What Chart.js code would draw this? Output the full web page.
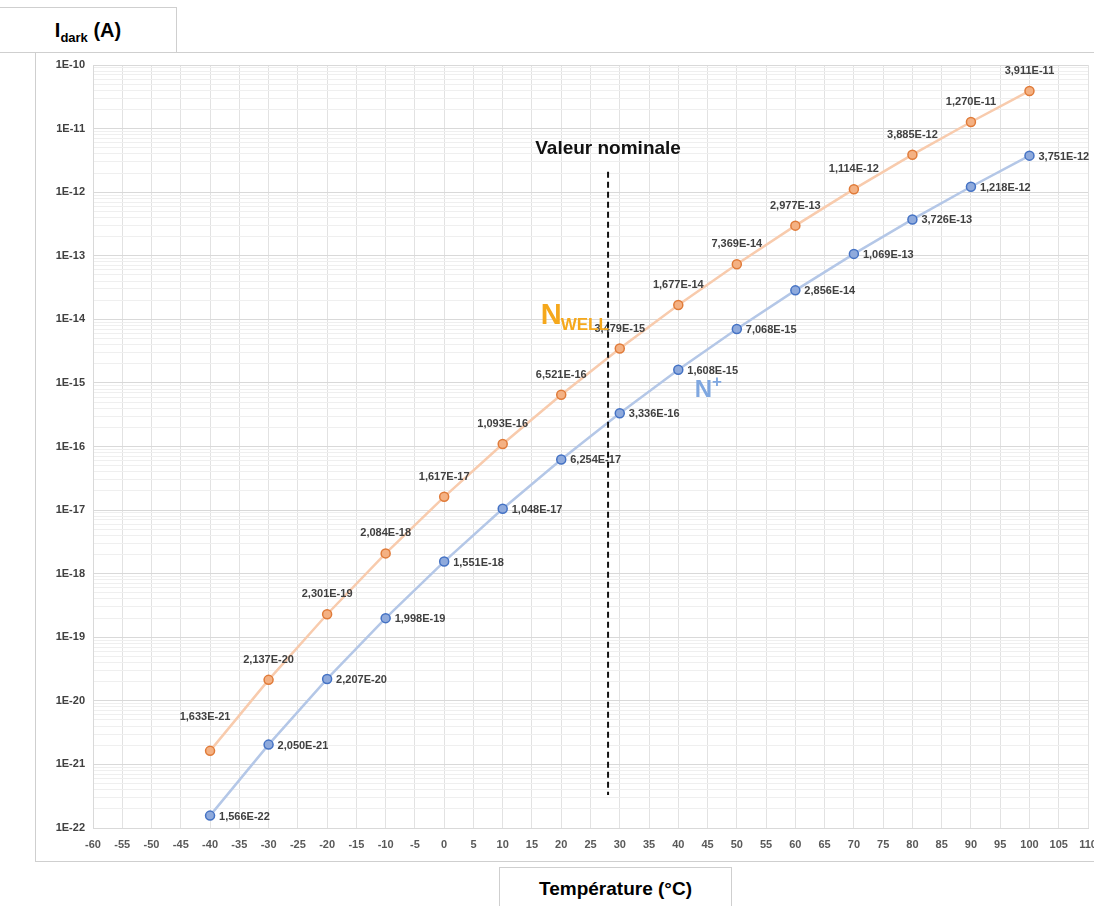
<!DOCTYPE html>
<html>
<head>
<meta charset="utf-8">
<script src="https://cdn.jsdelivr.net/npm/chart.js@4/dist/chart.umd.min.js"></script>
<style>
  body { margin: 0; background: #fff; }
  #wrap { position: relative; width: 1094px; height: 906px; overflow: hidden; font-family: 'Liberation Sans', Arial, sans-serif; }
  .box { position: absolute; border: 1px solid #cfcfcf; background: #fff; }
  canvas { position: absolute; left: 0; top: 0; }
</style>
</head>
<body>
<div id="wrap">
  <div class="box" style="left:35px; top:52px; width:1070px; height:808px;"></div>
  <div style="position:absolute; left:0; top:52px; width:1094px; height:0; border-top:1px solid #cfcfcf;"></div>
  <div class="box" style="left:-1px; top:7px; width:176px; height:44px; text-align:center; line-height:44px; font-weight:bold; font-size:20px;">I<sub style="font-size:13px;">dark</sub> (A)</div>
  <div class="box" style="left:499px; top:867px; width:231px; height:50px; text-align:center; line-height:42px; font-weight:bold; font-size:19px;">Température (°C)</div>
  <canvas id="myChart" width="1094" height="906"></canvas>
</div>
<script>
// temperatures (°C) and dark currents (A)
const temperatures = [-40, -30, -20, -10, 0, 10, 20, 30, 40, 50, 60, 70, 80, 90, 100];
const nwell = [1.633e-21, 2.137e-20, 2.301e-19, 2.084e-18, 1.617e-17, 1.093e-16, 6.521e-16, 3.479e-15,
               1.677e-14, 7.369e-14, 2.977e-13, 1.114e-12, 3.885e-12, 1.270e-11, 3.911e-11];
const nplus = [1.566e-22, 2.050e-21, 2.207e-20, 1.998e-19, 1.551e-18, 1.048e-17, 6.254e-17, 3.336e-16,
               1.608e-15, 7.068e-15, 2.856e-14, 1.069e-13, 3.726e-13, 1.218e-12, 3.751e-12];
const decades = [-22, -21, -20, -19, -18, -17, -16, -15, -14, -13, -12, -11, -10];
const nominalTemp = 28;

const LABEL_FONT = "bold 11px 'Liberation Sans Narrow', 'Liberation Sans', Arial, sans-serif";

function fmt(v) {
    return v.toExponential(3).replace('.', ',').replace('e', 'E');
}

function isDecade(v) {
    const e = Math.round(Math.log10(v));
    return Math.abs(v / Math.pow(10, e) - 1) < 1e-6;
}

const pointLabels = {
    id: 'pointLabels',
    afterDatasetsDraw(chart) {
        const ctx = chart.ctx;
        ctx.save();
        ctx.font = LABEL_FONT;
        ctx.fillStyle = '#404040';
        chart.data.datasets.forEach((ds, i) => {
            const meta = chart.getDatasetMeta(i);
            meta.data.forEach((pt, j) => {
                const txt = fmt(ds.data[j].y);
                if (i === 0) {
                    ctx.textAlign = 'center';
                    ctx.textBaseline = 'middle';
                    ctx.fillText(txt, pt.x - (j === 0 ? 5 : 0), pt.y - (j === 0 ? 34 : 20));
                } else {
                    ctx.textAlign = 'left';
                    ctx.textBaseline = 'middle';
                    ctx.fillText(txt, pt.x + 9, pt.y + 1);
                }
            });
        });
        ctx.restore();
    }
};

const annotations = {
    id: 'annotations',
    afterDraw(chart) {
        const ctx = chart.ctx;
        const xs = chart.scales.x, ys = chart.scales.y;
        const x = xs.getPixelForValue(nominalTemp);
        ctx.save();
        ctx.strokeStyle = '#111';
        ctx.lineWidth = 2;
        ctx.setLineDash([6, 4]);
        ctx.beginPath();
        ctx.moveTo(x, ys.getPixelForValue(2.1e-12));
        ctx.lineTo(x, ys.getPixelForValue(3.3e-22));
        ctx.stroke();
        ctx.setLineDash([]);

        ctx.fillStyle = '#111';
        ctx.font = "bold 19px 'Liberation Sans', Arial, sans-serif";
        ctx.textAlign = 'center';
        ctx.textBaseline = 'alphabetic';
        ctx.fillText('Valeur nominale', x, ys.getPixelForValue(2.1e-12) - 18);

        // NWELL
        ctx.textAlign = 'left';
        ctx.fillStyle = '#F5A81C';
        let nx = xs.getPixelForValue(16.5), ny = ys.getPixelForValue(Math.pow(10, -14.07));
        ctx.font = "bold 29px 'Liberation Sans', Arial, sans-serif";
        ctx.fillText('N', nx, ny);
        const w = ctx.measureText('N').width;
        ctx.font = "bold 17px 'Liberation Sans', Arial, sans-serif";
        ctx.fillText('WELL', nx + w - 1, ny + 6);

        // N+
        ctx.fillStyle = '#7FA7E0';
        nx = xs.getPixelForValue(42.8); ny = ys.getPixelForValue(Math.pow(10, -15.22));
        ctx.font = "bold 24px 'Liberation Sans', Arial, sans-serif";
        ctx.fillText('N', nx, ny);
        const w2 = ctx.measureText('N').width;
        ctx.font = "bold 17px 'Liberation Sans', Arial, sans-serif";
        ctx.fillText('+', nx + w2, ny - 10);
        ctx.restore();
    }
};

const config = {
    type: 'line',
    data: {
        datasets: [{
            label: 'NWELL',
            data: temperatures.map((t, i) => ({x: t, y: nwell[i]})),
            borderColor: '#F8CBAD',
            borderWidth: 2.5,
            backgroundColor: '#F4B183',
            pointBackgroundColor: '#F4B183',
            pointBorderColor: '#E07B39',
            pointBorderWidth: 1.5,
            pointRadius: 4.5,
            tension: 0
        }, {
            label: 'N+',
            data: temperatures.map((t, i) => ({x: t, y: nplus[i]})),
            borderColor: '#B4C7E7',
            borderWidth: 2.5,
            backgroundColor: '#8FAADC',
            pointBackgroundColor: '#8FAADC',
            pointBorderColor: '#4472C4',
            pointBorderWidth: 1.5,
            pointRadius: 4.5,
            tension: 0
        }]
    },
    options: {
        responsive: false,
        animation: false,
        layout: { padding: { left: 35, top: 65, right: 6, bottom: 40 } },
        plugins: {
            legend: { display: false },
            tooltip: { enabled: false }
        },
        scales: {
            x: {
                type: 'linear',
                min: -60,
                max: 110,
                afterFit(scale) {
                    scale.height = 38;
                    scale.paddingLeft = 0;
                    scale.paddingRight = 0;
                },
                ticks: {
                    stepSize: 5,
                    autoSkip: false,
                    maxRotation: 0,
                    padding: 10,
                    color: '#595959',
                    font: { family: "'Liberation Sans Narrow', 'Liberation Sans', Arial, sans-serif", size: 11, weight: 'bold' }
                },
                grid: { color: '#e2e2e2', drawTicks: false },
                border: { color: '#d9d9d9' }
            },
            y: {
                type: 'logarithmic',
                min: 1e-22,
                max: 1e-10,
                afterFit(scale) {
                    scale.width = 58;
                    scale.paddingTop = 0;
                    scale.paddingBottom = 0;
                },
                afterBuildTicks(scale) {
                    const ticks = [];
                    decades.forEach(e => {
                        if (e === decades[decades.length - 1]) {
                            ticks.push({ value: Math.pow(10, e) });
                            return;
                        }
                        for (let s = 1; s <= 9; s++) ticks.push({ value: s * Math.pow(10, e) });
                    });
                    scale.ticks = ticks;
                },
                ticks: {
                    autoSkip: false,
                    padding: 8,
                    color: '#404040',
                    font: { family: "'Liberation Sans Narrow', 'Liberation Sans', Arial, sans-serif", size: 11, weight: 'bold' },
                    callback: (v) => isDecade(v) ? '1E' + Math.round(Math.log10(v)) : ''
                },
                grid: {
                    drawTicks: false,
                    color: (c) => (c.tick && isDecade(c.tick.value)) ? '#d9d9d9' : '#efefef'
                },
                border: { color: '#d9d9d9' }
            }
        }
    },
    plugins: [pointLabels, annotations]
};

var ctx = document.getElementById('myChart').getContext('2d');
var myChart = new Chart(ctx, config);
</script>
</body>
</html>
